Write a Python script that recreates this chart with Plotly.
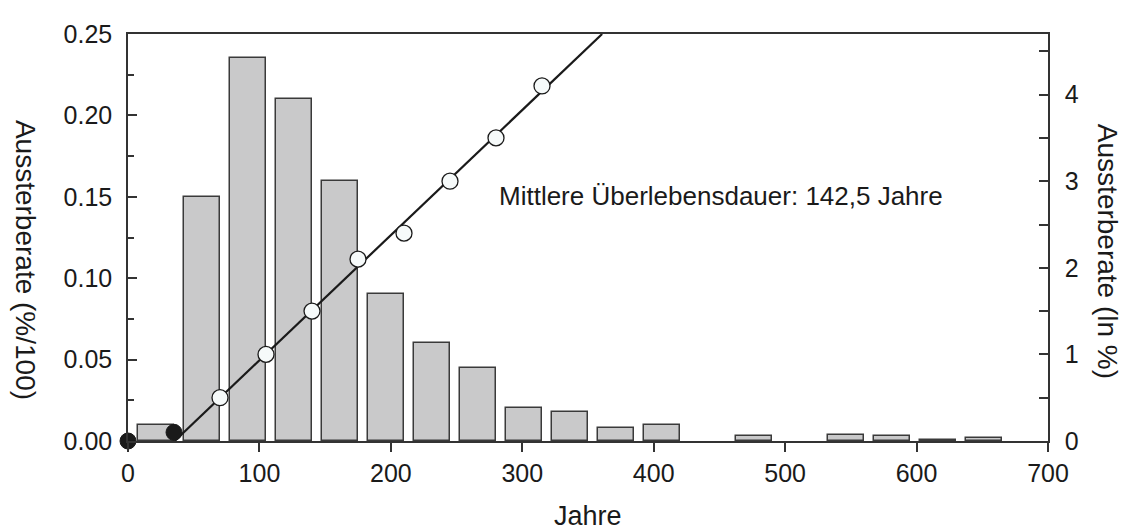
import plotly.graph_objects as go

# Histogram (left axis, %/100)
bar_x = [21.3, 56.3, 91.3, 126.3, 161.3, 196.3, 231.3, 266.3, 301.3, 336.3, 371.3, 406.3,
         476.3, 546.3, 581.3, 616.3, 651.3]
bar_y = [0.010, 0.150, 0.235, 0.210, 0.160, 0.090, 0.060, 0.045, 0.020, 0.018, 0.008, 0.010,
         0.003, 0.0037, 0.003, 0.0006, 0.002]
bar_width = 27

# ln-transformed extinction rate (right axis)
open_x = [70, 105, 140, 175, 210, 245, 280, 315]
open_y = [0.5, 1.0, 1.5, 2.1, 2.4, 3.0, 3.5, 4.1]
filled_x = [0, 35]
filled_y = [0.0, 0.1]

# linear fit
fit_x0 = 35.5
fit_slope = 0.01445

x_ticks = [0, 100, 200, 300, 400, 500, 600, 700]
y2_max = 4.70
y1_max = 0.25

fit_x = [fit_x0, fit_x0 + y2_max / fit_slope]
fit_y = [fit_slope * (v - fit_x0) for v in fit_x]

FONT = "Liberation Sans, Arial, sans-serif"
TXT = "#1a1a1a"
AX = "#333333"

fig = go.Figure()
fig.add_trace(go.Bar(
    x=bar_x, y=bar_y, width=bar_width,
    marker=dict(color="#c9c9ca", line=dict(color="#3a3a3a", width=1.5)),
    yaxis="y", showlegend=False,
))
fig.add_trace(go.Scatter(
    x=fit_x, y=fit_y, mode="lines", yaxis="y2",
    line=dict(color="#1a1a1a", width=2.2), showlegend=False,
))
fig.add_trace(go.Scatter(
    x=open_x, y=open_y, mode="markers", yaxis="y2", cliponaxis=False,
    marker=dict(size=16, color="#f6fafa", line=dict(color="#1a1a1a", width=1.3)),
    showlegend=False,
))
fig.add_trace(go.Scatter(
    x=filled_x, y=filled_y, mode="markers", yaxis="y2", cliponaxis=False,
    marker=dict(size=16, color="#1a1a1a", line=dict(color="#1a1a1a", width=1)),
    showlegend=False,
))

# page body has an 8px margin, so the figure is drawn 8px smaller and offset
fig.update_layout(
    width=1130, height=523,
    margin=dict(l=120, r=90, t=16, b=90),
    plot_bgcolor="white", paper_bgcolor="white",
    bargap=0,
    font=dict(family=FONT, color=TXT, size=25),
    xaxis=dict(
        range=[0, 700], tickvals=x_ticks, ticks="outside", ticklen=9, tickwidth=1.5,
        tickcolor=AX, showline=True, linecolor=AX, linewidth=1.5, mirror=True,
        showgrid=False, zeroline=False, tickfont=dict(size=25, color=TXT),
    ),
    yaxis=dict(
        range=[0, y1_max], dtick=0.05, tickformat=".2f", ticks="inside", ticklen=9,
        tickwidth=1.5, tickcolor=AX, showline=True, linecolor=AX, linewidth=1.5,
        showgrid=False, zeroline=False, ticklabelstandoff=9,
        minor=dict(dtick=0.025, ticks="inside", ticklen=6, tickwidth=1.5, tickcolor=AX),
        tickfont=dict(size=25, color=TXT),
    ),
    yaxis2=dict(
        range=[0, y2_max], dtick=1, overlaying="y", side="right", ticks="inside",
        ticklen=9, tickwidth=1.5, tickcolor=AX, showline=True, linecolor=AX, linewidth=1.5,
        showgrid=False, zeroline=False, ticklabelstandoff=10,
        minor=dict(dtick=0.5, ticks="inside", ticklen=9, tickwidth=1.5, tickcolor=AX),
        tickfont=dict(size=25, color=TXT),
    ),
    annotations=[
        dict(text="Mittlere Überlebensdauer: 142,5 Jahre", x=280.8, y=0.1505,
             xref="x", yref="y", xanchor="left", yanchor="middle", showarrow=False,
             font=dict(size=26, color=TXT)),
        dict(text="Jahre", x=0.5, y=-0.185, xref="paper", yref="paper",
             xanchor="center", yanchor="middle", showarrow=False,
             font=dict(size=27, color=TXT)),
        dict(text="Aussterberate (%/100)", x=-0.112, y=0.445, xref="paper", yref="paper",
             xanchor="center", yanchor="middle", textangle=90, showarrow=False,
             font=dict(size=28, color=TXT)),
        dict(text="Aussterberate (ln %)", x=1.064, y=0.465, xref="paper", yref="paper",
             xanchor="center", yanchor="middle", textangle=90, showarrow=False,
             font=dict(size=28, color=TXT)),
    ],
)

fig.write_html("out.html")
